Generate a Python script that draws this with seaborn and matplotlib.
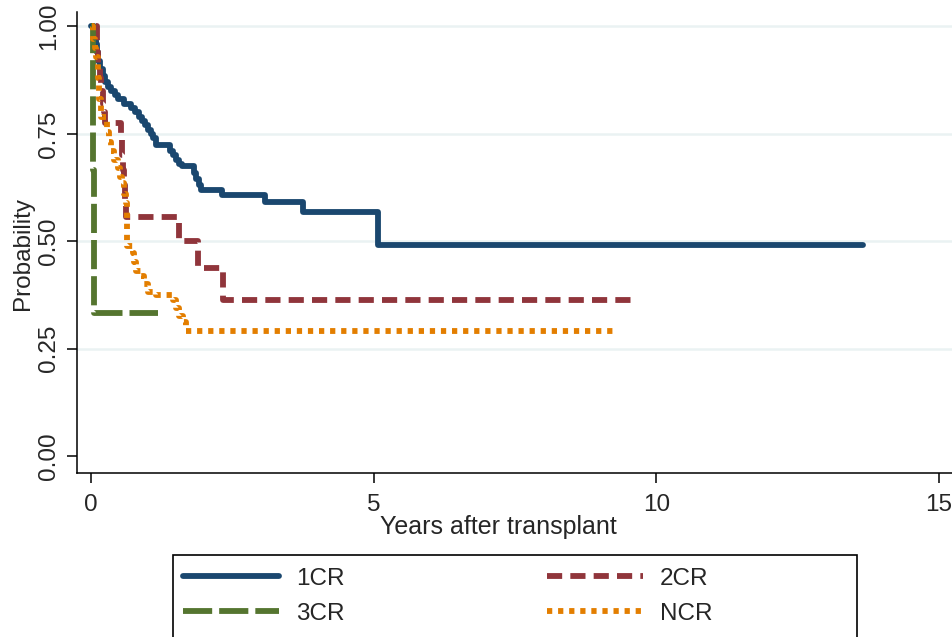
## Kaplan-Meier style step curves by remission status
import numpy as np
import pandas as pd
import matplotlib
matplotlib.use('Agg')
import matplotlib.pyplot as plt
import seaborn as sns
from matplotlib.lines import Line2D
from matplotlib.patches import Rectangle

groups = ['1CR', '2CR', '3CR', 'NCR']

## time (years) of each step and probability after that step, last point = end of follow-up
t_1cr = [0, 0.05, 0.08, 0.10, 0.12, 0.15, 0.20, 0.25, 0.30, 0.35, 0.42, 0.48, 0.58, 0.70,
         0.78, 0.85, 0.90, 0.95, 1.00, 1.05, 1.10, 1.15, 1.40, 1.45, 1.50, 1.55, 1.60,
         1.82, 1.86, 1.90, 1.95, 2.32, 3.08, 3.75, 5.07, 13.65]
s_1cr = [1.0, 0.98, 0.96, 0.94, 0.92, 0.90, 0.885, 0.87, 0.86, 0.85, 0.84, 0.83, 0.82, 0.81,
         0.80, 0.79, 0.78, 0.77, 0.76, 0.75, 0.74, 0.725, 0.71, 0.70, 0.69, 0.68, 0.675,
         0.66, 0.645, 0.63, 0.62, 0.608, 0.592, 0.567, 0.491, 0.491]

t_2cr = [0.08, 0.10, 0.12, 0.15, 0.18, 0.20, 0.22, 0.25, 0.52, 0.54, 0.56, 0.58, 0.60, 0.62,
         1.55, 1.88, 2.33, 9.57]
s_2cr = [1.0, 0.94, 0.91, 0.88, 0.85, 0.82, 0.80, 0.776, 0.74, 0.70, 0.666, 0.63, 0.59, 0.556,
         0.50, 0.437, 0.363, 0.363]

t_3cr = [0.0, 0.03, 0.05, 1.18]
s_3cr = [1.0, 0.667, 0.333, 0.333]

t_ncr = [0.02, 0.03, 0.06, 0.08, 0.11, 0.14, 0.17, 0.28, 0.31, 0.35, 0.41, 0.47, 0.50, 0.55,
         0.58, 0.61, 0.625, 0.63, 0.635, 0.64, 0.73, 0.76, 0.79, 0.88, 0.94, 1.00, 1.15,
         1.44, 1.50, 1.55, 1.62, 1.68, 9.27]
s_ncr = [1.0, 0.97, 0.95, 0.93, 0.88, 0.83, 0.79, 0.755, 0.73, 0.71, 0.69, 0.67, 0.65, 0.635,
         0.61, 0.59, 0.56, 0.54, 0.515, 0.49, 0.473, 0.452, 0.43, 0.418, 0.40, 0.383, 0.375,
         0.363, 0.345, 0.325, 0.313, 0.29, 0.29]

x_ticks = [0, 5, 10, 15]
y_ticks = [0.00, 0.25, 0.50, 0.75, 1.00]

colors = {'1CR': '#1a476f', '2CR': '#90353b', '3CR': '#55752f', 'NCR': '#e37e00'}
dashes = {'1CR': '', '2CR': (2.6, 1.4), '3CR': (5.0, 1.2), 'NCR': (0.9, 1.0)}
lw = 4.2
fs = 17.5

frames = []
for g, t, s in zip(groups, [t_1cr, t_2cr, t_3cr, t_ncr], [s_1cr, s_2cr, s_3cr, s_ncr]):
    frames.append(pd.DataFrame({'time': t, 'surv': s, 'group': g}))
df = pd.concat(frames, ignore_index=True)

sns.set_style('white')
plt.rcParams['font.family'] = ['Liberation Sans', 'DejaVu Sans']

fig = plt.figure(figsize=(9.53, 6.37), dpi=100)
ax = fig.add_axes([0.0805, 0.258, 0.9195, 0.7233])

# gridlines (not at 0)
for yv in y_ticks[1:]:
    ax.axhline(yv, color='#eaf2f3', lw=1.8, zorder=0)

for g in groups:
    sns.lineplot(data=df[df.group == g], x='time', y='surv', ax=ax, color=colors[g],
                 estimator=None, sort=False, drawstyle='steps-post', lw=lw,
                 dashes=False, legend=False)
    ln = ax.get_lines()[-1]
    if dashes[g]:
        ln.set_dashes(dashes[g])
    ln.set_dash_capstyle('butt')

ax.set_xlim(-0.258, 15.25)
ax.set_ylim(-0.0386, 1.0338)
ax.set_xticks(x_ticks)
ax.set_xticklabels([str(v) for v in x_ticks])
ax.set_yticks(y_ticks)
ax.set_yticklabels(['%.2f' % v for v in y_ticks], rotation=90, va='center')
ax.tick_params(axis='both', which='major', labelsize=fs, length=7, width=1.1,
               color='black', direction='out', left=True, bottom=True)
ax.tick_params(axis='y', pad=5)
ax.tick_params(axis='x', pad=8.5)

for side in ['top', 'right']:
    ax.spines[side].set_visible(False)
for side in ['left', 'bottom']:
    ax.spines[side].set_color('black')
    ax.spines[side].set_linewidth(1.1)

ax.set_xlabel('Years after transplant', fontsize=fs + 0.5)
ax.set_ylabel('Probability', fontsize=fs)
ax.xaxis.set_label_coords(0.481, -0.092)
ax.yaxis.set_label_coords(-0.049, 0.475)

# legend box, bottom is cut off by the figure edge
fig.patches.append(Rectangle((0.1812, -0.1), 0.7177, 0.1287 + 0.1, transform=fig.transFigure,
                             fill=False, ec='black', lw=1.2))
handles = {}
for g in groups:
    h = Line2D([0], [0], color=colors[g], lw=lw)
    if dashes[g]:
        h.set_dashes(dashes[g])
    h.set_dash_capstyle('butt')
    handles[g] = h
# row-wise order like the original: 1CR 2CR / 3CR NCR
order = ['1CR', '3CR', '2CR', 'NCR']
leg = fig.legend([handles[g] for g in order], order, ncol=2, loc='upper left',
                 bbox_to_anchor=(0.1925, 0.109),
                 frameon=False, fontsize=fs, handlelength=3.95, handletextpad=0.7,
                 columnspacing=8.3, labelspacing=0.55, borderpad=0, borderaxespad=0)

plt.savefig('out.png', dpi=100)
